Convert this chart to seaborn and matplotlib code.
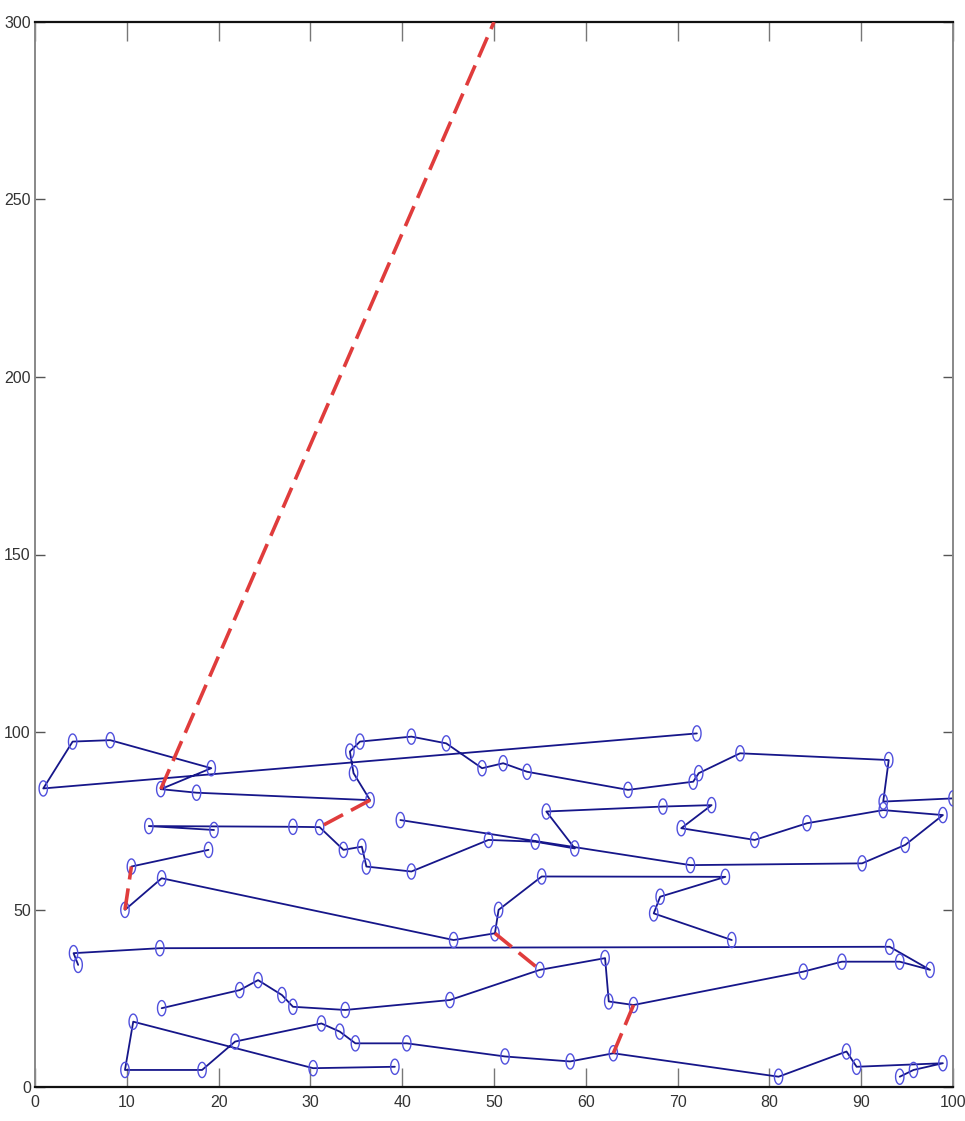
import numpy as np
import pandas as pd
import matplotlib
matplotlib.use("Agg")
import matplotlib.pyplot as plt
import seaborn as sns

# ---- data ----
path1_x = [72.1, 0.9, 4.1, 8.2, 19.2, 13.7, 17.6, 36.5, 34.7, 34.3, 35.4, 41.0, 44.8, 48.7, 51.0, 53.6, 64.6, 71.7, 72.3, 76.8, 93.0, 92.4, 100.0]
path1_y = [99.6, 84.1, 97.3, 97.7, 89.8, 83.9, 82.9, 80.8, 88.4, 94.5, 97.3, 98.7, 96.8, 89.8, 91.2, 88.8, 83.7, 86.0, 88.4, 94.0, 92.1, 80.4, 81.3]

path2_x = [39.8, 71.4, 90.1, 94.8, 98.9, 92.4, 84.1, 78.4, 70.4, 73.7, 68.4, 55.7, 58.8, 54.5, 49.4, 41.0, 36.1, 35.6, 33.6, 31.0, 28.1, 12.4, 19.5]
path2_y = [75.2, 62.5, 63.0, 68.2, 76.6, 78.0, 74.3, 69.6, 72.9, 79.4, 79.0, 77.6, 67.2, 69.1, 69.6, 60.7, 62.1, 67.7, 66.8, 73.2, 73.3, 73.5, 72.4]

path3_x = [10.5, 18.9]
path3_y = [62.1, 66.8]

path4_x = [9.8, 13.8, 45.6, 50.1, 50.5, 55.2, 75.2, 68.1, 67.4, 75.9]
path4_y = [49.9, 58.8, 41.4, 43.3, 49.9, 59.3, 59.2, 53.6, 48.9, 41.4]

path5_x = [4.7, 4.2, 13.6, 93.1, 97.5, 94.2, 87.9, 83.7, 65.2, 62.5, 62.1, 55.0, 45.2, 33.8, 28.1, 26.9, 24.3, 22.3, 13.8]
path5_y = [34.4, 37.7, 39.1, 39.5, 33.0, 35.3, 35.3, 32.5, 23.1, 24.1, 36.3, 33.0, 24.5, 21.7, 22.6, 25.9, 30.1, 27.3, 22.2]

path6_x = [39.2, 30.3, 10.7, 9.8, 18.2, 21.8, 31.2, 33.2, 34.9, 40.5, 51.2, 58.3, 63.0, 81.0, 88.4, 89.5, 98.9, 95.7, 94.2]
path6_y = [5.7, 5.3, 18.4, 4.8, 4.8, 12.8, 17.9, 15.6, 12.3, 12.3, 8.6, 7.2, 9.5, 2.9, 10.0, 5.7, 6.7, 4.8, 2.9]

# red dashed links (start -> end)
red_x0 = [13.7, 36.5, 9.8, 50.1, 65.2]
red_y0 = [83.9, 80.8, 49.9, 43.3, 23.1]
red_x1 = [50.0, 31.0, 10.5, 55.0, 63.0]
red_y1 = [300.0, 73.2, 62.1, 33.0, 9.5]

x_ticks = [0, 10, 20, 30, 40, 50, 60, 70, 80, 90, 100]
y_ticks = [0, 50, 100, 150, 200, 250, 300]

# ---- figure ----
sns.set_style("white")
plt.rcParams['font.family'] = ['Liberation Sans Narrow', 'Liberation Sans', 'DejaVu Sans']

fig = plt.figure(figsize=(9.65, 11.21), dpi=100)
ax = fig.add_axes([35/965, 34/1121, 918/965, 1065/1121])

line_col = "#16168a"
mark_col = "#5050dd"

# tall ellipse marker (the reference figure is squeezed horizontally)
t = np.linspace(0, 2*np.pi, 41)
ell = list(zip(0.55*np.cos(t), np.sin(t)))

paths = [(path1_x, path1_y), (path2_x, path2_y), (path3_x, path3_y),
         (path4_x, path4_y), (path5_x, path5_y), (path6_x, path6_y)]
for px, py in paths:
    df = pd.DataFrame({"x": px, "y": py})
    sns.lineplot(data=df, x="x", y="y", sort=False, estimator=None,
                 color=line_col, linewidth=1.3, ax=ax, zorder=2)

all_x = sum([p[0] for p in paths], [])
all_y = sum([p[1] for p in paths], [])
sns.scatterplot(x=all_x, y=all_y, marker=ell, s=120, facecolor="none",
                edgecolor=mark_col, linewidth=1.0, ax=ax, zorder=3)

for xa, ya, xb, yb in zip(red_x0, red_y0, red_x1, red_y1):
    sns.lineplot(x=[xa, xb], y=[ya, yb], sort=False, estimator=None,
                 color="#e03c3c", linewidth=2.6, linestyle=(0, (6, 2.5)),
                 ax=ax, zorder=4)

ax.set_xlim(0, 100)
ax.set_ylim(0, 300)
ax.set_xticks(x_ticks)
ax.set_yticks(y_ticks)
ax.set_xticklabels([str(v) for v in x_ticks], fontsize=11.5)
ax.set_yticklabels([str(v) for v in y_ticks], fontsize=11.5)
ax.set_xlabel("")
ax.set_ylabel("")
ax.tick_params(axis="x", direction="in", length=14, width=1, color="#777777",
               top=True, bottom=True, pad=6, labelcolor="#333333")
ax.tick_params(axis="y", direction="in", length=7, width=1, color="#555555",
               left=True, right=True, pad=3, labelcolor="#333333")
for side in ["top", "bottom"]:
    ax.spines[side].set_color("#111111")
    ax.spines[side].set_linewidth(1.6)
for side in ["left", "right"]:
    ax.spines[side].set_color("#888888")
    ax.spines[side].set_linewidth(1.4)

fig.savefig("out.png", dpi=100)
